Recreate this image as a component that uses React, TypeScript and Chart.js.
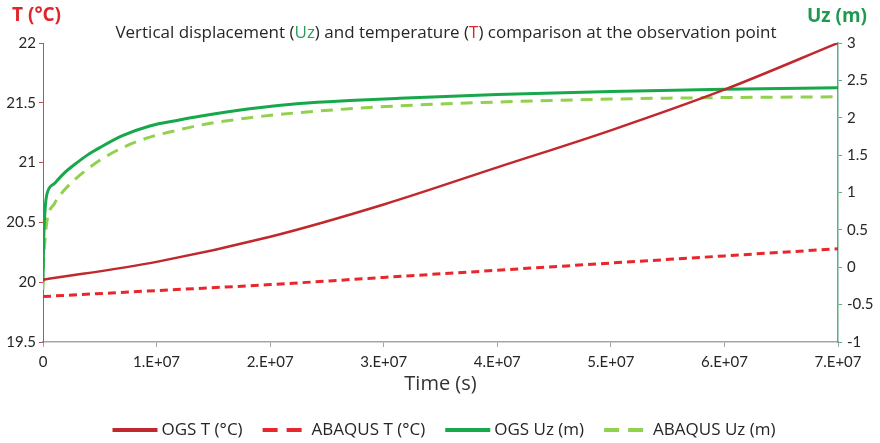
import React, { useEffect, useRef } from "react";
import { Chart, registerables } from "chart.js";
Chart.register(...registerables);

// ---- data ----
const timeT = [0, 1e7, 2e7, 3e7, 4e7, 5e7, 6e7, 7e7];
const ogsT = [20.02, 20.17, 20.38, 20.65, 20.96, 21.27, 21.61, 22.0];
const abaqusT = [19.88, 19.93, 19.98, 20.04, 20.1, 20.16, 20.22, 20.28];

const timeUz = [
  0, 0.05e6, 0.2e6, 0.35e6, 1e6, 1.8e6, 3e6, 3.9e6, 5e6, 7e6, 9.4e6, 12e6,
  13.8e6, 18.2e6, 22.6e6, 27e6, 31.4e6, 40e6, 50e6, 60e6, 70e6,
];
const ogsUz = [
  -0.2, 0.3, 0.8, 0.98, 1.12, 1.25, 1.4, 1.5, 1.6, 1.76, 1.89, 1.97, 2.02,
  2.12, 2.19, 2.23, 2.26, 2.31, 2.35, 2.38, 2.4,
];
const abaqusUz = [
  -0.3, 0.05, 0.4, 0.62, 0.85, 1.02, 1.2, 1.31, 1.43, 1.6, 1.74, 1.84, 1.9,
  2.0, 2.07, 2.12, 2.16, 2.21, 2.25, 2.27, 2.28,
];

const xTicks = ["0", "1.E+07", "2.E+07", "3.E+07", "4.E+07", "5.E+07", "6.E+07", "7.E+07"];
const seriesLabels = ["OGS T (°C)", "ABAQUS T (°C)", "OGS Uz (m)", "ABAQUS Uz (m)"];
const titleParts = [
  { text: "Vertical displacement (", color: "#262626" },
  { text: "Uz", color: "#2a9d5c" },
  { text: ") and temperature (", color: "#262626" },
  { text: "T", color: "#e0262c" },
  { text: ") comparison at the observation point", color: "#262626" },
];

const TICK_FONT = "Lato, 'Open Sans', sans-serif";
const TEXT_FONT = "'Open Sans', Lato, sans-serif";

const pts = (xs: number[], ys: number[]) => xs.map((x, i) => ({ x, y: ys[i] }));

const textPlugin = {
  id: "texts",
  afterDraw(chart: any) {
    const ctx = chart.ctx as CanvasRenderingContext2D;
    ctx.save();
    // title
    ctx.font = `17px ${TEXT_FONT}`;
    ctx.textBaseline = "middle";
    ctx.textAlign = "left";
    const widths = titleParts.map((p) => ctx.measureText(p.text).width);
    const total = widths.reduce((a, b) => a + b, 0);
    let x = 446 - total / 2;
    titleParts.forEach((p, i) => {
      ctx.fillStyle = p.color;
      ctx.fillText(p.text, x, 33);
      x += widths[i];
    });
    // axis titles
    ctx.font = `bold 19px ${TEXT_FONT}`;
    ctx.fillStyle = "#e0262c";
    ctx.textAlign = "left";
    ctx.fillText("T (°C)", 12, 16);
    ctx.fillStyle = "#1e9a50";
    ctx.textAlign = "right";
    ctx.fillText("Uz (m)", 867, 17);

    // legend
    ctx.font = `17px ${TEXT_FONT}`;
    ctx.textAlign = "left";
    const lineLen = 45;
    const gap = 4;
    const spacing = 20;
    const ds = chart.data.datasets;
    const tw = ds.map((d: any) => ctx.measureText(d.label).width);
    const full = tw.reduce((a: number, b: number) => a + b, 0) + ds.length * (lineLen + gap) + (ds.length - 1) * spacing;
    let lx = 444 - full / 2;
    const ly = 430;
    ds.forEach((d: any, i: number) => {
      ctx.beginPath();
      ctx.strokeStyle = d.borderColor;
      ctx.lineWidth = 4;
      ctx.setLineDash(d.borderDash && d.borderDash.length ? [15, 9] : []);
      ctx.moveTo(lx, ly);
      ctx.lineTo(lx + lineLen, ly);
      ctx.stroke();
      ctx.setLineDash([]);
      ctx.fillStyle = "#262626";
      ctx.fillText(d.label, lx + lineLen + gap, ly);
      lx += lineLen + gap + tw[i] + spacing;
    });
    ctx.restore();
  },
};

export default function App() {
  const ref = useRef<HTMLCanvasElement | null>(null);
  useEffect(() => {
    if (!ref.current) return;
    const chart = new Chart(ref.current, {
      type: "line",
      data: {
        datasets: [
          {
            label: seriesLabels[0],
            data: pts(timeT, ogsT),
            borderColor: "#c0282d",
            borderWidth: 2.5,
            yAxisID: "yT",
            pointRadius: 0,
            cubicInterpolationMode: "monotone",
          },
          {
            label: seriesLabels[1],
            data: pts(timeT, abaqusT),
            borderColor: "#e8262b",
            borderWidth: 3,
            borderDash: [8, 5],
            yAxisID: "yT",
            pointRadius: 0,
            cubicInterpolationMode: "monotone",
          },
          {
            label: seriesLabels[2],
            data: pts(timeUz, ogsUz),
            borderColor: "#17a84b",
            borderWidth: 3,
            yAxisID: "yU",
            pointRadius: 0,
            cubicInterpolationMode: "monotone",
          },
          {
            label: seriesLabels[3],
            data: pts(timeUz, abaqusUz),
            borderColor: "#92d050",
            borderWidth: 3,
            borderDash: [12, 8],
            yAxisID: "yU",
            pointRadius: 0,
            cubicInterpolationMode: "monotone",
          },
        ],
      },
      options: {
        animation: false,
        responsive: false,
        layout: { padding: { top: 43, left: 0, right: 0, bottom: 0 } },
        plugins: {
          legend: { display: false },
          title: { display: false },
          tooltip: { enabled: false },
        },
        scales: {
          x: {
            type: "linear",
            min: 0,
            max: 7e7,
            afterFit: (s: any) => {
              s.height = 101;
            },
            afterBuildTicks: (s: any) => {
              s.ticks = timeT.map((v) => ({ value: v }));
            },
            ticks: {
              callback: (_v: any, i: number) => xTicks[i],
              font: { size: 15, family: TICK_FONT },
              color: "#262626",
              padding: 6,
              maxRotation: 0,
            },
            grid: { drawOnChartArea: false, tickLength: 5, color: "#a6a6a6" },
            border: { color: "#a6a6a6", width: 1.5 },
            title: {
              display: true,
              text: "Time (s)",
              font: { size: 20, family: TEXT_FONT },
              color: "#333333",
              padding: { top: 0, bottom: 47 },
            },
          },
          yT: {
            type: "linear",
            position: "left",
            min: 19.5,
            max: 22,
            afterFit: (s: any) => {
              s.width = 43;
            },
            ticks: {
              stepSize: 0.5,
              callback: (v: any) => String(v),
              font: { size: 15, family: TICK_FONT },
              color: "#262626",
              padding: 3,
            },
            grid: { drawOnChartArea: false, tickLength: 4, color: "#c0504d" },
            border: { color: "#c0504d", width: 1 },
          },
          yU: {
            type: "linear",
            position: "right",
            min: -1,
            max: 3,
            afterFit: (s: any) => {
              s.width = 42;
            },
            ticks: {
              stepSize: 0.5,
              callback: (v: any) => String(v),
              font: { size: 15, family: TICK_FONT },
              color: "#262626",
              padding: 5,
            },
            grid: { drawOnChartArea: false, tickLength: 4, color: "#5aae84" },
            border: { color: "#5aae84", width: 1.5 },
          },
        },
      } as any,
      plugins: [textPlugin],
    });
    return () => chart.destroy();
  }, []);
  return (
    <div style={{ position: "absolute", left: 0, top: 0, width: 880, height: 443, background: "#fff" }}>
      <canvas ref={ref} width={880} height={443} style={{ display: "block" }} />
    </div>
  );
}
